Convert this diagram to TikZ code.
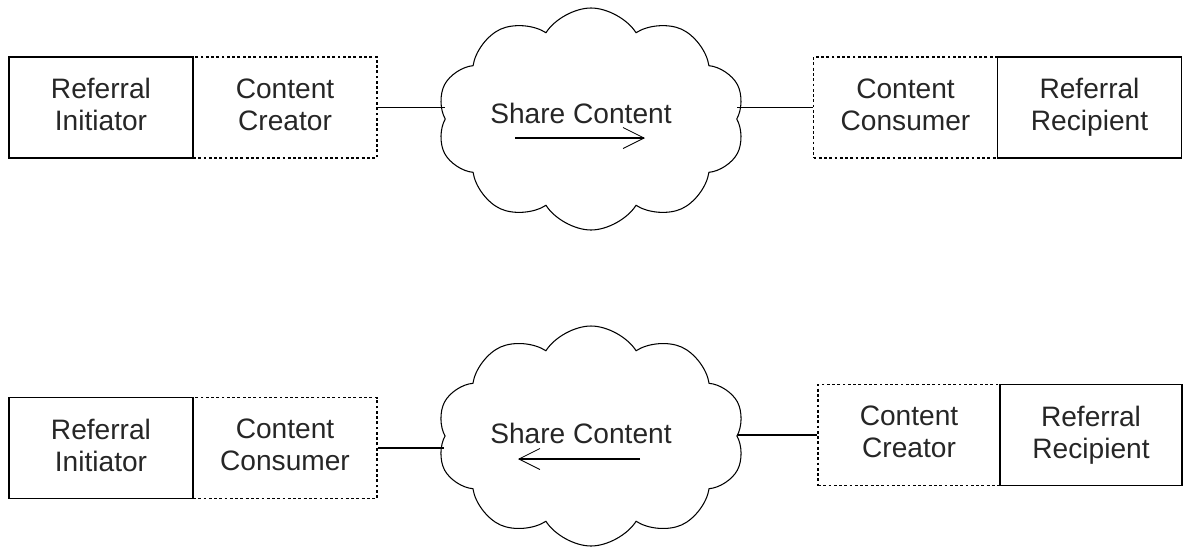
\documentclass[tikz,border=0pt]{standalone}
\usepackage{fontspec}
\setmainfont{Liberation Sans}
\usepackage{tikz}
\usetikzlibrary{positioning,shapes.symbols,arrows.meta}

\begin{document}
\begin{tikzpicture}[
    every node/.style={font=\fontsize{16}{18.2}\selectfont, text=black!85},
    box/.style={draw, line width=0.8pt, minimum width=3.68cm, minimum height=2.02cm, align=center,
        execute at begin node=\vphantom{lp}, execute at end node=\vphantom{lp}},
    dbox/.style={box, line width=0.7pt, dash pattern=on 1.6pt off 1.4pt},
    puff/.style={draw, line width=0.6pt, shape=cloud, cloud puffs=10, cloud puff arc=115, cloud ignores aspect, minimum width=6.16cm, minimum height=4.44cm, inner sep=0pt},
    flow/.style={line width=0.7pt, -{Straight Barb[length=0.42cm, width=0.42cm, line width=0.5pt]}}
]
            \useasboundingbox (0,0) rectangle (23.72,-10.96);

            % top row: initiator creates, recipient consumes
            \node[dbox] (cc1) at (5.70,-2.15) {Content\\Creator};
            \node[box, left of=cc1, node distance=3.68cm] (ri1) {Referral\\Initiator};
            \node[puff] (cloud1) at (11.82,-2.38) {};
            \node (share1) at (11.62,-2.26) {Share Content};
            \node[dbox] (cons1) at (18.11,-2.15) {Content\\Consumer};
            \node[box, right of=cons1, node distance=3.68cm] (rr1) {Referral\\Recipient};

            \coordinate (a1) at (10.30,-2.76);
            \coordinate (b1) at (12.90,-2.76);
            \draw[flow] (a1) -- (b1);

            \draw[line width=0.7pt] (cc1.east) -- (cc1.east -| cloud1.west);
            \draw[line width=0.7pt] (cons1.west) -- (cons1.west -| cloud1.east);

            % bottom row: roles swapped
            \node[dbox] (cons2) at (5.70,-8.96) {Content\\Consumer};
            \node[box, left of=cons2, node distance=3.68cm] (ri2) {Referral\\Initiator};
            \node[puff, minimum height=4.40cm] (cloud2) at (11.82,-8.72) {};
            \node (share2) at (11.62,-8.66) {Share Content};
            \node[dbox, minimum width=3.64cm] (cc2) at (18.18,-8.70) {Content\\Creator};
            \node[box, minimum width=3.64cm, right of=cc2, node distance=3.64cm] (rr2) {Referral\\Recipient};

            \coordinate (a2) at (12.80,-9.18);
            \coordinate (b2) at (10.36,-9.18);
            \draw[flow] (a2) -- (b2);

            \draw[line width=0.7pt] (cons2.east) -- (cons2.east -| cloud2.west);
            \draw[line width=0.7pt] (cc2.west) -- (cc2.west -| cloud2.east);
        \end{tikzpicture}
\end{document}
